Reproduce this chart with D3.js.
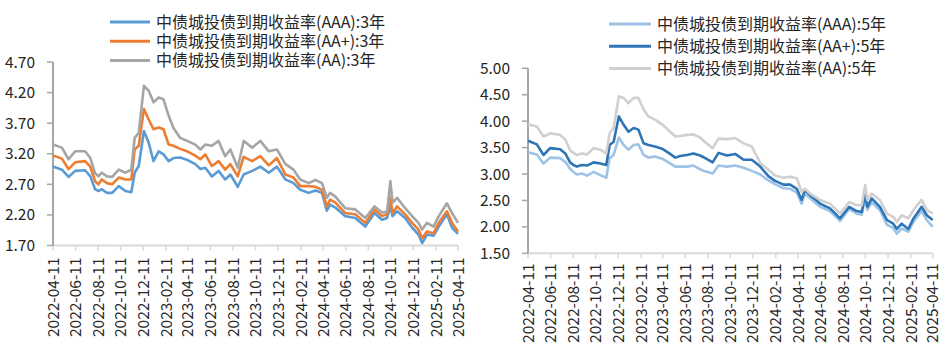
<!DOCTYPE html>
<html><head><meta charset="utf-8">
<script src="https://cdn.jsdelivr.net/npm/d3@7"></script>
<style>
body{margin:0;background:#fff}
svg{display:block}
text{font-family:"Noto Sans CJK SC","Noto Sans",sans-serif;fill:#262626}
</style>
</head><body>
<svg id="c" width="946" height="355"></svg>
<script>
// ---- data ----
const dates = ["2022-04-11","2022-05-05","2022-05-23","2022-06-10","2022-07-07","2022-07-21","2022-08-03","2022-08-12","2022-08-21","2022-09-04","2022-09-18","2022-10-06","2022-10-24","2022-11-09","2022-11-18","2022-11-29","2022-12-13","2022-12-26","2023-01-08","2023-01-22","2023-02-04","2023-02-18","2023-03-03","2023-03-21","2023-04-09","2023-05-01","2023-05-15","2023-05-28","2023-06-15","2023-07-03","2023-07-21","2023-08-04","2023-08-24","2023-09-09","2023-10-02","2023-10-24","2023-11-16","2023-12-08","2023-12-31","2024-01-22","2024-02-09","2024-03-03","2024-03-21","2024-04-08","2024-04-21","2024-04-30","2024-05-14","2024-06-10","2024-07-07","2024-08-03","2024-08-28","2024-09-17","2024-10-01","2024-10-10","2024-10-16","2024-10-28","2024-11-19","2024-12-08","2024-12-25","2025-01-04","2025-01-17","2025-02-04","2025-02-18","2025-03-12","2025-03-26","2025-04-11"];

const aaa3 = [2.99,2.94,2.82,2.92,2.93,2.83,2.62,2.59,2.62,2.56,2.56,2.67,2.59,2.57,2.89,3.00,3.57,3.38,3.08,3.24,3.19,3.08,3.13,3.14,3.10,3.03,2.95,2.97,2.83,2.92,2.78,2.86,2.66,2.86,2.92,2.99,2.89,2.99,2.78,2.72,2.61,2.56,2.60,2.56,2.27,2.37,2.32,2.18,2.15,2.01,2.23,2.12,2.15,2.34,2.18,2.26,2.15,1.99,1.88,1.74,1.88,1.86,2.01,2.21,1.99,1.89];
const aap3 = [3.17,3.12,2.95,3.06,3.08,2.99,2.75,2.70,2.78,2.72,2.70,2.81,2.78,2.78,3.27,3.33,3.93,3.76,3.60,3.63,3.60,3.35,3.33,3.28,3.24,3.17,3.11,3.19,3.00,3.08,2.94,3.03,2.83,3.15,3.08,3.16,3.01,3.13,2.86,2.81,2.67,2.67,2.66,2.61,2.34,2.45,2.40,2.23,2.21,2.07,2.29,2.18,2.21,2.48,2.23,2.34,2.21,2.07,1.96,1.82,1.93,1.90,2.07,2.26,2.07,1.93];
const aa3  = [3.35,3.30,3.11,3.24,3.24,3.13,2.88,2.83,2.89,2.83,2.82,2.94,2.89,2.94,3.46,3.54,4.31,4.23,4.04,4.12,4.09,3.82,3.62,3.46,3.41,3.35,3.27,3.35,3.33,3.41,3.16,3.27,2.97,3.41,3.30,3.41,3.24,3.27,3.03,2.94,2.78,2.72,2.77,2.72,2.48,2.56,2.50,2.31,2.29,2.15,2.34,2.24,2.25,2.75,2.40,2.48,2.31,2.18,2.07,1.96,2.07,2.01,2.18,2.39,2.23,2.07];

const aaa5 = [3.41,3.37,3.20,3.31,3.30,3.23,3.10,3.04,2.99,3.01,2.97,3.04,2.98,2.93,3.30,3.36,3.69,3.55,3.46,3.55,3.56,3.36,3.31,3.33,3.29,3.20,3.14,3.14,3.14,3.16,3.09,3.05,3.01,3.16,3.14,3.16,3.12,3.06,2.99,2.88,2.81,2.73,2.72,2.65,2.44,2.63,2.54,2.38,2.30,2.11,2.34,2.25,2.23,2.54,2.32,2.46,2.32,2.04,1.98,1.87,1.97,1.91,2.10,2.30,2.13,2.00];
const aap5 = [3.63,3.56,3.36,3.49,3.47,3.39,3.22,3.17,3.14,3.17,3.16,3.22,3.20,3.17,3.55,3.61,4.09,3.93,3.80,3.87,3.84,3.58,3.55,3.52,3.48,3.38,3.31,3.34,3.36,3.39,3.35,3.30,3.22,3.40,3.35,3.38,3.27,3.27,3.14,2.96,2.87,2.80,2.80,2.72,2.51,2.70,2.60,2.44,2.35,2.16,2.38,2.30,2.28,2.63,2.38,2.54,2.38,2.13,2.06,1.96,2.06,1.96,2.16,2.38,2.22,2.13];
const aa5  = [3.94,3.90,3.71,3.77,3.74,3.65,3.45,3.40,3.36,3.39,3.37,3.49,3.46,3.39,3.77,3.87,4.47,4.44,4.34,4.44,4.44,4.22,4.09,4.03,3.94,3.80,3.71,3.72,3.74,3.75,3.69,3.60,3.49,3.67,3.66,3.68,3.58,3.52,3.21,3.08,2.97,2.93,2.95,2.92,2.66,2.72,2.63,2.51,2.44,2.25,2.47,2.41,2.41,2.79,2.51,2.63,2.51,2.25,2.19,2.09,2.22,2.16,2.32,2.51,2.32,2.25];

const xTickLabels = ["2022-04-11","2022-06-11","2022-08-11","2022-10-11","2022-12-11","2023-02-11","2023-04-11","2023-06-11","2023-08-11","2023-10-11","2023-12-11","2024-02-11","2024-04-11","2024-06-11","2024-08-11","2024-10-11","2024-12-11","2025-02-11","2025-04-11"];
const yTicksLeft = [1.70,2.20,2.70,3.20,3.70,4.20,4.70];
const yTicksRight = [1.50,2.00,2.50,3.00,3.50,4.00,4.50,5.00];
const namesLeft = ["中债城投债到期收益率(AAA):3年","中债城投债到期收益率(AA+):3年","中债城投债到期收益率(AA):3年"];
const namesRight = ["中债城投债到期收益率(AAA):5年","中债城投债到期收益率(AA+):5年","中债城投债到期收益率(AA):5年"];

// ---- drawing ----
const parse = d3.timeParse("%Y-%m-%d");
const dt = dates.map(parse);
const svg = d3.select("#c");

function panel(cfg){
  const g = svg.append("g");
  const x = d3.scaleTime().domain([parse(xTickLabels[0]), parse(xTickLabels[xTickLabels.length-1])]).range([cfg.x0, cfg.x1]);
  const y = d3.scaleLinear().domain(cfg.yDom).range([cfg.yBot, cfg.yTop]);

  // x axis
  g.append("line").attr("x1",cfg.x0).attr("x2",cfg.x1).attr("y1",cfg.yBot).attr("y2",cfg.yBot)
    .attr("stroke","#D9D9D9").attr("stroke-width",2);
  xTickLabels.forEach(s=>{
    const xx = x(parse(s));
    g.append("line").attr("x1",xx).attr("x2",xx).attr("y1",cfg.yBot).attr("y2",cfg.yBot+5)
      .attr("stroke","#D9D9D9").attr("stroke-width",1.5);
    g.append("text").attr("transform",`translate(${xx},${cfg.yBot+cfg.lblOff}) rotate(-90)`)
      .attr("text-anchor","end").attr("dy","0.36em").style("font-size","15.5px").text(s);
  });
  // y axis
  g.append("line").attr("x1",cfg.x0).attr("x2",cfg.x0).attr("y1",cfg.yBot).attr("y2",cfg.yTop)
    .attr("stroke","#A6A6A6").attr("stroke-width",2);
  cfg.yTicks.forEach(v=>{
    const yy = y(v);
    g.append("line").attr("x1",cfg.x0-6).attr("x2",cfg.x0).attr("y1",yy).attr("y2",yy)
      .attr("stroke","#A6A6A6").attr("stroke-width",1.5);
    g.append("text").attr("x",cfg.x0-18).attr("y",yy).attr("dy","0.36em").attr("text-anchor","end")
      .style("font-size","15.5px").text(v.toFixed(2));
  });

  const line = d3.line().x((d,i)=>x(dt[i])).y(d=>y(d));
  cfg.series.forEach((s,i)=>{
    g.append("path").datum(s.vals).attr("d",line).attr("fill","none")
      .attr("stroke",s.color).attr("stroke-width",2.6).attr("stroke-linejoin","round");
  });
  // legend
  cfg.series.forEach((s,i)=>{
    const ly = cfg.legY + i*cfg.legStep;
    g.append("line").attr("x1",cfg.legX).attr("x2",cfg.legX+cfg.legLen).attr("y1",ly).attr("y2",ly)
      .attr("stroke",s.color).attr("stroke-width",3);
    g.append("text").attr("x",cfg.legX+cfg.legLen+6).attr("y",ly).attr("dy","0.36em")
      .style("font-size","16px").text(cfg.names[i]);
  });
}

panel({x0:53, x1:458, yBot:245.5, yTop:62, yDom:[1.7,4.7], yTicks:yTicksLeft, lblOff:12,
  names:namesLeft, legX:110, legLen:40, legY:22, legStep:19.2,
  series:[{vals:aaa3,color:"#5B9BD5"},{vals:aap3,color:"#ED7D31"},{vals:aa3,color:"#A5A5A5"}]});

panel({x0:528, x1:932.7, yBot:253.3, yTop:68.3, yDom:[1.5,5.0], yTicks:yTicksRight, lblOff:10,
  names:namesRight, legX:609, legLen:42, legY:24, legStep:22.2,
  series:[{vals:aaa5,color:"#9DC3E6"},{vals:aap5,color:"#2E75B6"},{vals:aa5,color:"#D0D0D0"}]});
</script>
</body></html>
